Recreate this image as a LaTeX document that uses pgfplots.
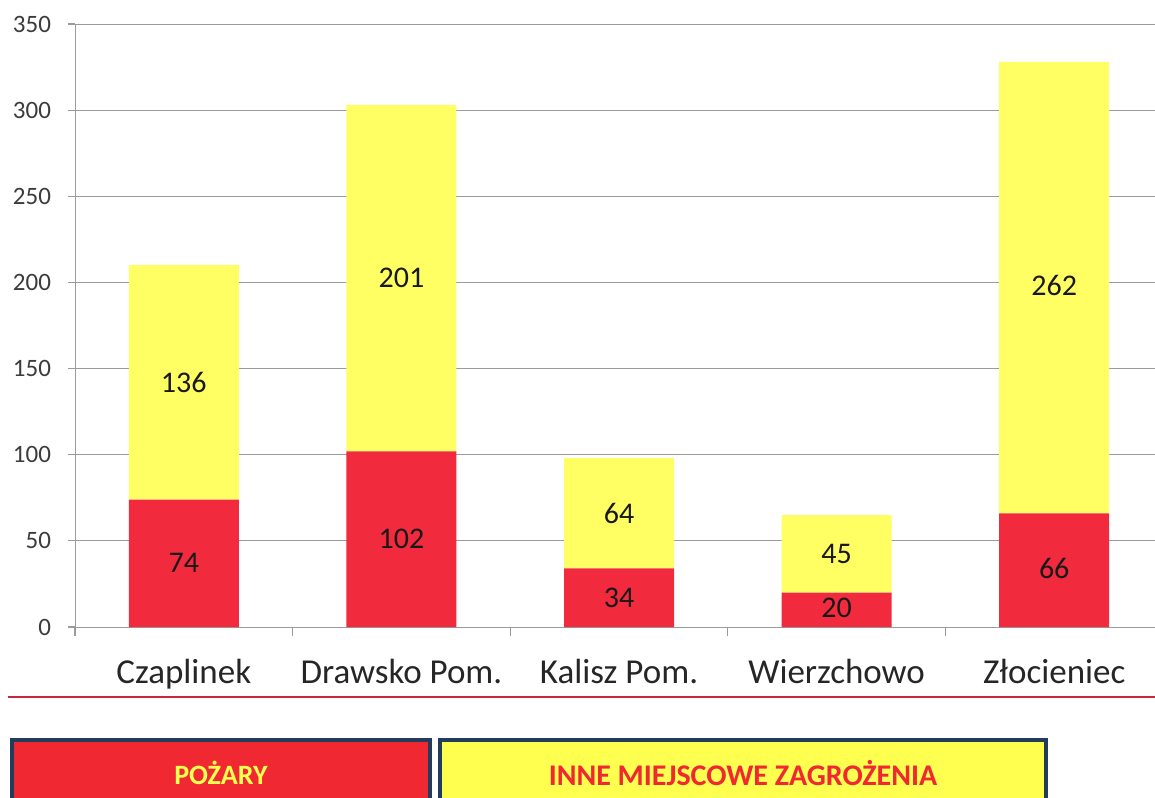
\documentclass[border=0pt]{standalone}
\usepackage{pgfplots}
\pgfplotsset{compat=1.18}
\usepackage{fontspec}
\setmainfont{Carlito}
\definecolor{barred}{RGB}{242,42,62}
\definecolor{baryellow}{RGB}{255,255,100}
\definecolor{gridgray}{RGB}{155,155,155}
\definecolor{boxblue}{RGB}{36,60,92}
\definecolor{linered}{RGB}{200,40,60}
\definecolor{tickgray}{RGB}{60,60,60}
\definecolor{legyellow}{RGB}{255,255,80}
\definecolor{legred}{RGB}{240,40,50}
\pgfplotstableread{
x pozary inne
0 74 136
1 102 201
2 34 64
3 20 45
4 66 262
}\datatable
\pgfplotstableread{
x y lab
0 37 74
0 142 136
1 51 102
1 202.5 201
2 17 34
2 66 64
3 11 20
3 42.5 45
4 34 66
4 198 262
}\labeltable
\begin{document}
\begin{tikzpicture}
\useasboundingbox (0pt,0pt) rectangle (577.5pt,-398.5pt);
\pgfplotsset{
  common/.style={
    at={(37.5pt,-313.5pt)}, anchor=south west,
    scale only axis, width=544pt, height=301.5pt,
    xmin=-0.5, xmax=4.5, ymin=0, ymax=350,
  }
}
\begin{axis}[common,
  ybar stacked, bar width=55pt,
  axis x line*=bottom, axis y line*=left,
  x axis line style={-, draw=gridgray},
  y axis line style={-, draw=gridgray},
  ymajorgrids, grid style={gridgray, line width=0.5pt},
  ytick={0,50,...,350},
  xtick={0,1,2,3,4},
  xticklabels={Czaplinek,Drawsko Pom.,Kalisz Pom.,Wierzchowo,Złocieniec},
  minor xtick={-0.5,0.5,1.5,2.5,3.5,4.5},
  tick align=outside,
  major tick length=3.5pt, minor tick length=4.5pt,
  major x tick style={draw=none},
  tick style={gridgray, line width=0.6pt},
  /pgf/number format/assume math mode=true,
  yticklabel style={font=\fontsize{12.5}{14}\selectfont, text=tickgray, xshift=-5pt},
  xticklabel style={font=\fontsize{17.5}{20}\selectfont, text=black!85, yshift=-9pt},
]
\addplot[fill=barred, draw=none] table[x=x, y=pozary] {\datatable};
\addplot[fill=baryellow, draw=none] table[x=x, y=inne] {\datatable};
\end{axis}
\begin{axis}[common, hide axis]
\addplot[draw=none, mark=none, nodes near coords, point meta=explicit symbolic,
  every node near coord/.append style={anchor=center, font=\fontsize{15}{17}\selectfont, text=black!90}]
  table[x=x, y=y, meta=lab] {\labeltable};
\end{axis}
\draw[linered, line width=1pt] (4pt,-348.5pt) -- (577.5pt,-348.5pt);
\draw[boxblue, line width=2pt, fill=legred] (6pt,-370pt) rectangle (215pt,-410pt);
\draw[boxblue, line width=2pt, fill=legyellow] (220pt,-370pt) rectangle (523pt,-410pt);
\node[font=\bfseries\fontsize{14}{16}\selectfont, text=legyellow] at (110.5pt,-386.5pt) {POŻARY};
\node[font=\bfseries\fontsize{15}{17}\selectfont, text=legred] at (371.5pt,-386.5pt) {INNE MIEJSCOWE ZAGROŻENIA};
\end{tikzpicture}
\end{document}
